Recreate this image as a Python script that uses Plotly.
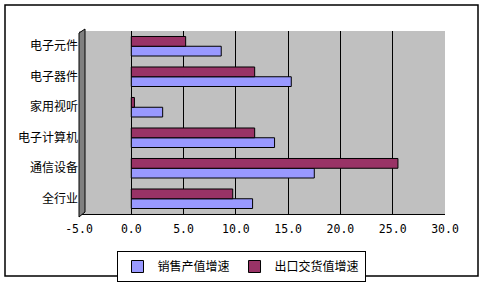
import plotly.graph_objects as go

categories = ['全行业', '通信设备', '电子计算机', '家用视听', '电子器件', '电子元件']
sales_growth = [11.6, 17.5, 13.7, 3.0, 15.3, 8.6]
export_growth = [9.7, 25.5, 11.8, 0.3, 11.8, 5.2]
series_names = ['销售产值增速', '出口交货值增速']
tick_vals = [-5, 0, 5, 10, 15, 20, 25, 30]
tick_text = ['-5.0', '0.0', '5.0', '10.0', '15.0', '20.0', '25.0', '30.0']

L, R, T, B = 79, 39, 31, 68
W, H = 484, 282
pw, ph = W - L - R, H - T - B

def px(x):
    return (x - L) / pw

def py(y):
    return (H - B - y) / ph

fig = go.Figure()
fig.add_trace(go.Bar(y=categories, x=sales_growth, orientation='h', name=series_names[0],
                     marker=dict(color='#9999FF', line=dict(color='black', width=1))))
fig.add_trace(go.Bar(y=categories, x=export_growth, orientation='h', name=series_names[1],
                     marker=dict(color='#993366', line=dict(color='black', width=1))))

fig.update_layout(
    width=W, height=H,
    margin=dict(l=L, r=R, t=T, b=B, autoexpand=False),
    paper_bgcolor='white',
    plot_bgcolor='#C0C0C0',
    barmode='group',
    bargap=0.36,
    bargroupgap=0,
    font=dict(family='Noto Sans CJK SC', size=12, color='black'),
    xaxis=dict(range=[-5, 30], tickvals=tick_vals, ticktext=tick_text,
               showgrid=True, gridcolor='black', gridwidth=1, zeroline=False,
               showline=True, linecolor='black', linewidth=1,
               ticks='', ticklabelstandoff=4,
               tickfont=dict(family='DejaVu Sans Mono', size=11.5)),
    yaxis=dict(showgrid=False, zeroline=False, ticks='', showline=False,
               tickfont=dict(size=12)),
    showlegend=True,
    legend=dict(orientation='h', x=px(241), xanchor='center', y=py(251), yanchor='top',
                bordercolor='black', borderwidth=1, bgcolor='white',
                font=dict(size=12), itemwidth=30, tracegroupgap=0),
    shapes=[
        dict(type='path', xref='paper', yref='paper',
             path=f'M {px(79)} {py(33)} L {px(85)} {py(29)} L {px(85)} {py(212)} L {px(79)} {py(217)} Z',
             fillcolor='#808080', line=dict(color='black', width=1), layer='above'),
        dict(type='rect', xref='paper', yref='paper',
             x0=px(5), x1=px(478), y0=py(276), y1=py(5),
             line=dict(color='black', width=1.5), fillcolor='rgba(0,0,0,0)'),
    ],
)

fig.write_html('out.html')
